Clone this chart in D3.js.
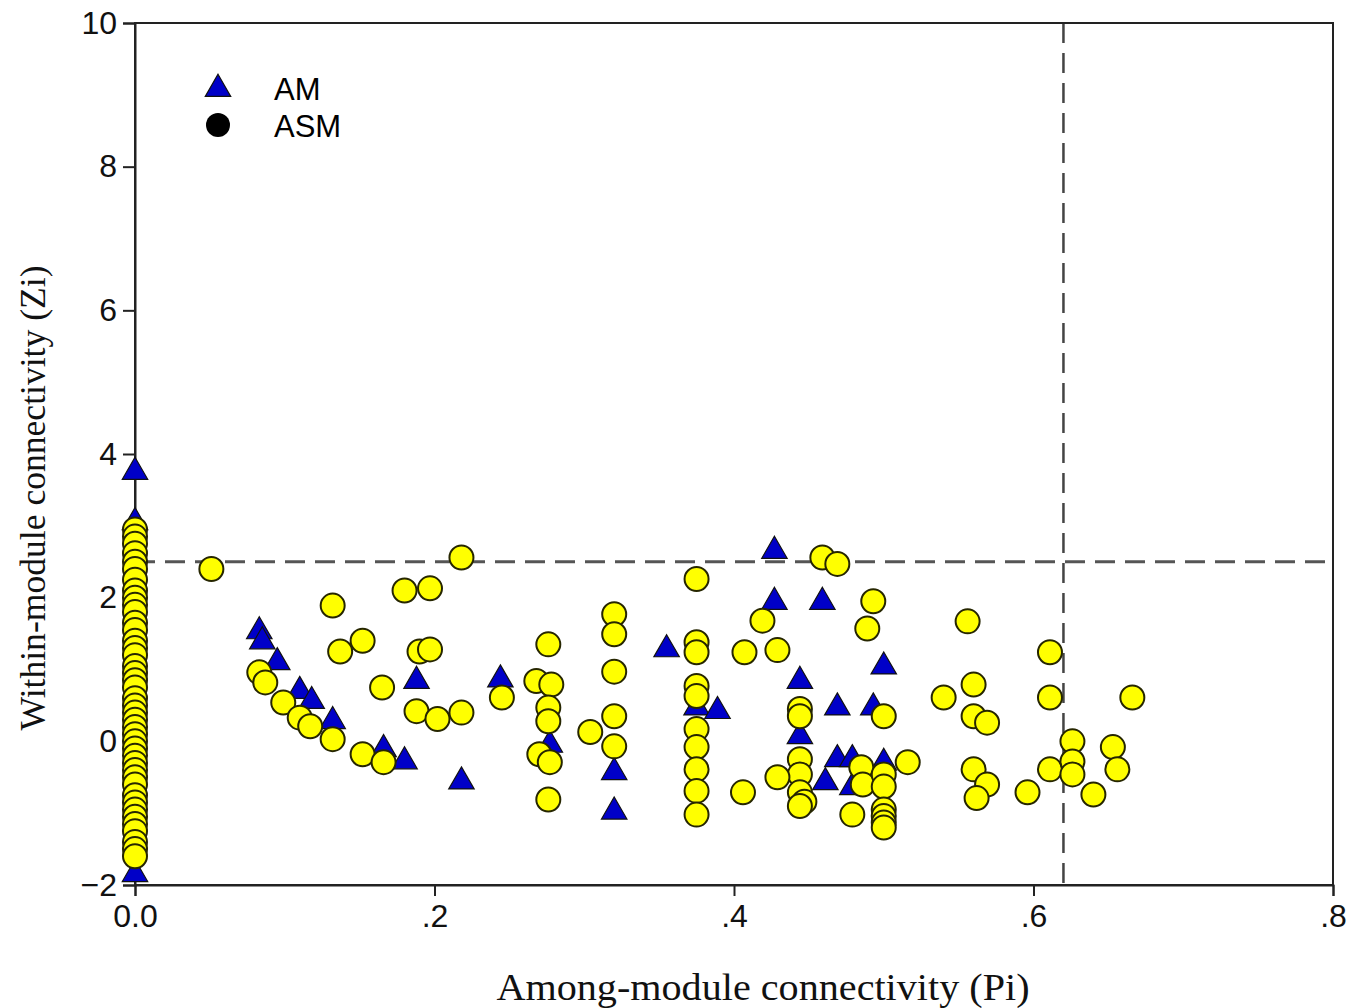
<!DOCTYPE html>
<html>
<head>
<meta charset="utf-8">
<script src="https://cdn.jsdelivr.net/npm/d3@7"></script>
<style>
  body { margin: 0; background: #fff; }
  svg { display: block; }
</style>
</head>
<body>
<div id="chart"></div>
<script>
// AM nodes (triangles)
const amPi = [0, 0, 0, 0.083, 0.085, 0.095, 0.110, 0.118, 0.132, 0.166, 0.180, 0.218, 0.188, 0.244,
  0.277, 0.320, 0.320, 0.355, 0.375, 0.389, 0.427, 0.427, 0.459, 0.500, 0.444, 0.444,
  0.469, 0.493, 0.469, 0.479, 0.461, 0.479, 0.500];
const amZi = [3.75, 3.05, -1.85, 1.53, 1.39, 1.10, 0.70, 0.56, 0.28, -0.11, -0.28, -0.56, 0.84, 0.86,
  -0.05, -0.43, -0.98, 1.28, 0.47, 0.42, 2.65, 1.94, 1.94, 1.04, 0.84, 0.07,
  0.47, 0.47, -0.25, -0.25, -0.57, -0.64, -0.30];

// ASM nodes at Pi = 0 (stacked column)
const asmZeroZi = [2.95, 2.85, 2.75, 2.62, 2.5, 2.4, 2.25, 2.1, 2.0, 1.9, 1.8, 1.65, 1.55, 1.4, 1.3,
  1.2, 1.05, 0.95, 0.85, 0.75, 0.6, 0.5, 0.4, 0.3, 0.2, 0.1, 0.0, -0.1, -0.2, -0.3, -0.4, -0.5,
  -0.6, -0.75, -0.85, -0.95, -1.05, -1.15, -1.25, -1.4, -1.5, -1.6];

// ASM nodes with Pi > 0 (circles)
const asmPi = [0.051, 0.218, 0.180, 0.197, 0.132, 0.137, 0.152, 0.190, 0.197, 0.083, 0.087, 0.165,
  0.245, 0.099, 0.110, 0.117, 0.132, 0.188, 0.202, 0.218, 0.152, 0.166,
  0.375, 0.419, 0.375, 0.375, 0.407, 0.276, 0.320, 0.320, 0.320, 0.320, 0.320, 0.304, 0.268,
  0.278, 0.276, 0.276, 0.270, 0.277, 0.276,
  0.375, 0.375, 0.375, 0.375, 0.375, 0.375, 0.375, 0.406,
  0.459, 0.469, 0.493, 0.489, 0.429, 0.444, 0.444, 0.500, 0.444, 0.444, 0.444, 0.447, 0.444, 0.429,
  0.485, 0.486, 0.500, 0.500, 0.516, 0.479, 0.500, 0.500, 0.500, 0.500,
  0.556, 0.611, 0.560, 0.540, 0.611, 0.666, 0.560, 0.569, 0.626, 0.653, 0.560, 0.569, 0.562,
  0.596, 0.611, 0.626, 0.626, 0.656, 0.640];
const asmZi = [2.40, 2.56, 2.10, 2.13, 1.89, 1.25, 1.40, 1.25, 1.28, 0.96, 0.82, 0.75,
  0.61, 0.54, 0.33, 0.21, 0.03, 0.42, 0.31, 0.40, -0.18, -0.29,
  2.26, 1.68, 1.38, 1.24, 1.24, 1.35, 1.77, 1.49, 0.97, 0.35, -0.07, 0.13, 0.84,
  0.79, 0.47, 0.28, -0.18, -0.29, -0.81,
  0.77, 0.63, 0.17, -0.08, -0.39, -0.69, -1.02, -0.71,
  2.56, 2.47, 1.95, 1.57, 1.27, 0.45, 0.35, 0.35, -0.25, -0.46, -0.71, -0.84, -0.90, -0.50,
  -0.36, -0.60, -0.46, -0.63, -0.29, -1.02, -0.95, -1.04, -1.13, -1.20,
  1.67, 1.24, 0.79, 0.61, 0.61, 0.61, 0.35, 0.26, 0.00, -0.08, -0.39, -0.60, -0.79,
  -0.71, -0.39, -0.28, -0.46, -0.39, -0.74];

const xTicks = [0, 0.2, 0.4, 0.6, 0.8];
const xTickLabels = ['0.0', '.2', '.4', '.6', '.8'];
const yTicks = [-2, 0, 2, 4, 6, 8, 10];
const piThreshold = 0.62;
const ziThreshold = 2.5;

const width = 1366, height = 1008;
const margin = { top: 23, right: 33, bottom: 123, left: 135 };

const svg = d3.select('#chart').append('svg')
  .attr('width', width)
  .attr('height', height);

const x = d3.scaleLinear().domain([0, 0.8]).range([margin.left, width - margin.right]);
const y = d3.scaleLinear().domain([-2, 10]).range([height - margin.bottom, margin.top]);

// threshold lines
svg.append('line')
  .attr('x1', x(0)).attr('x2', x(0.8))
  .attr('y1', y(ziThreshold)).attr('y2', y(ziThreshold))
  .attr('stroke', '#555').attr('stroke-width', 3)
  .attr('stroke-dasharray', '20,10');

svg.append('line')
  .attr('x1', x(piThreshold)).attr('x2', x(piThreshold))
  .attr('y1', y(10)).attr('y2', y(-2))
  .attr('stroke', '#444').attr('stroke-width', 2.5)
  .attr('stroke-dasharray', '20,10');

// frame
svg.append('rect')
  .attr('x', x(0)).attr('y', y(10))
  .attr('width', x(0.8) - x(0)).attr('height', y(-2) - y(10))
  .attr('fill', 'none').attr('stroke', '#222').attr('stroke-width', 2);

const xAxis = svg.append('g')
  .attr('transform', `translate(0,${y(-2)})`)
  .call(d3.axisBottom(x).tickValues(xTicks).tickSize(11).tickPadding(8)
    .tickFormat((d, i) => xTickLabels[i]));

const yAxis = svg.append('g')
  .attr('transform', `translate(${x(0)},0)`)
  .call(d3.axisLeft(y).tickValues(yTicks).tickSize(12).tickPadding(6)
    .tickFormat(d => d < 0 ? '\u2212' + Math.abs(d) : d));

[xAxis, yAxis].forEach(a => {
  a.select('.domain').attr('stroke', '#222').attr('stroke-width', 2);
  a.selectAll('.tick line').attr('stroke', '#222').attr('stroke-width', 2);
  a.selectAll('.tick text')
    .attr('fill', '#111')
    .style('font-family', 'Liberation Sans, Arial, sans-serif')
    .style('font-size', '32px');
});

// markers
const tri = d3.symbol().type(d3.symbolTriangle).size(280);

const amData = amPi.map((p, i) => ({ p, z: amZi[i] }));
const asmData = asmZeroZi.map(z => ({ p: 0, z })).concat(asmPi.map((p, i) => ({ p, z: asmZi[i] })));

svg.append('g').selectAll('path')
  .data(amData)
  .join('path')
  .attr('d', tri)
  .attr('transform', d => `translate(${x(d.p)},${y(d.z)})`)
  .attr('fill', '#0000c8')
  .attr('stroke', '#111')
  .attr('stroke-width', 1.2);

svg.append('g').selectAll('circle')
  .data(asmData)
  .join('circle')
  .attr('cx', d => x(d.p))
  .attr('cy', d => y(d.z))
  .attr('r', 12)
  .attr('fill', '#ffff00')
  .attr('stroke', '#262600')
  .attr('stroke-width', 2);

// legend
const legend = svg.append('g')
  .style('font-family', 'Liberation Sans, Arial, sans-serif')
  .style('font-size', '31px');

legend.append('path')
  .attr('d', tri)
  .attr('transform', 'translate(218,89)')
  .attr('fill', '#0000c8')
  .attr('stroke', '#111')
  .attr('stroke-width', 1.2);
legend.append('text').attr('x', 274).attr('y', 100).text('AM');

legend.append('circle')
  .attr('cx', 218).attr('cy', 125).attr('r', 12)
  .attr('fill', '#000');
legend.append('text').attr('x', 274).attr('y', 137).text('ASM');

// axis titles
svg.append('text')
  .attr('x', 763).attr('y', 1000)
  .attr('text-anchor', 'middle')
  .attr('textLength', 533)
  .attr('lengthAdjust', 'spacingAndGlyphs')
  .style('font-family', 'Liberation Serif, Times New Roman, serif')
  .style('font-size', '38px')
  .attr('fill', '#111')
  .text('Among-module connectivity (Pi)');

svg.append('text')
  .attr('transform', 'translate(45,498) rotate(-90)')
  .attr('text-anchor', 'middle')
  .attr('textLength', 465)
  .attr('lengthAdjust', 'spacingAndGlyphs')
  .style('font-family', 'Liberation Serif, Times New Roman, serif')
  .style('font-size', '36px')
  .attr('fill', '#111')
  .text('Within-module connectivity (Zi)');
</script>
</body>
</html>
